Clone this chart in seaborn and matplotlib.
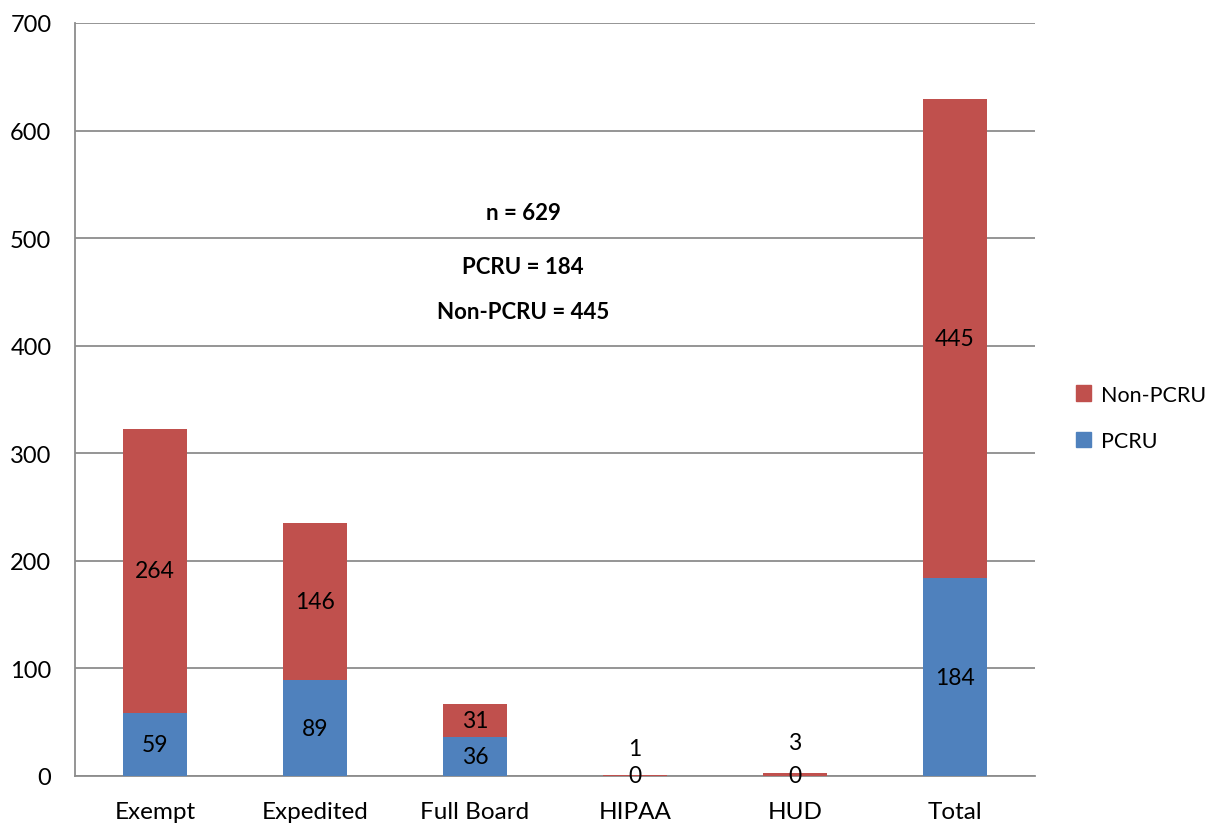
import numpy as np
import pandas as pd
import seaborn as sns
import matplotlib.pyplot as plt
from matplotlib.patches import Patch

categories = ['Exempt', 'Expedited', 'Full Board', 'HIPAA', 'HUD', 'Total']
pcru = [59, 89, 36, 0, 0, 184]
non_pcru = [264, 146, 31, 1, 3, 445]

blue = '#4F81BD'
red = '#C0504D'
grid_c = '#8C8C8C'

df = pd.DataFrame({'category': categories, 'PCRU': pcru, 'Non-PCRU': non_pcru})
df['total'] = df['PCRU'] + df['Non-PCRU']

sns.set_style('white')
plt.rcParams['font.family'] = ['Lato', 'DejaVu Sans']
plt.rcParams['text.color'] = 'black'
plt.rcParams['xtick.color'] = 'black'
plt.rcParams['ytick.color'] = 'black'

fig = plt.figure(figsize=(12.21, 8.29), dpi=100)
ax = fig.add_axes([75/1221, 52/829, 960/1221, 753/829])

sns.barplot(data=df, x='category', y='total', color=red, width=0.4, saturation=1,
            linewidth=0, ax=ax, zorder=3)
sns.barplot(data=df, x='category', y='PCRU', color=blue, width=0.4, saturation=1,
            linewidth=0, ax=ax, zorder=3)

# segment labels
for i, row in df.iterrows():
    ax.text(i, row['PCRU'] / 2, str(row['PCRU']), ha='center', va='center', fontsize=16.5, zorder=5)
    if row['Non-PCRU'] >= 10:
        ax.text(i, row['PCRU'] + row['Non-PCRU'] / 2, str(row['Non-PCRU']),
                ha='center', va='center', fontsize=16.5, zorder=5)
    else:
        ax.annotate(str(row['Non-PCRU']), (i, row['total']), xytext=(0, 17 + 5 * row['Non-PCRU'] / 3),
                    textcoords='offset points', ha='center', va='center', fontsize=16.5, zorder=5)

ax.text(2.3, 524, 'n = 629', ha='center', va='center', fontsize=16, fontweight='bold')
ax.text(2.3, 474, 'PCRU = 184', ha='center', va='center', fontsize=16, fontweight='bold')
ax.text(2.3, 432, 'Non-PCRU = 445', ha='center', va='center', fontsize=16, fontweight='bold')

ax.set_ylim(0, 700)
ax.set_xlim(-0.5, 5.5)
ax.set_yticks(np.arange(0, 701, 100))
ax.yaxis.grid(True, color=grid_c, linewidth=1.3, zorder=0)
ax.set_axisbelow(True)
ax.set_xlabel('')
ax.set_ylabel('')

for s in ['top', 'right']:
    ax.spines[s].set_visible(False)
for s in ['left', 'bottom']:
    ax.spines[s].set_color(grid_c)
    ax.spines[s].set_linewidth(1.3)

ax.tick_params(axis='y', length=7, color=grid_c, width=1.3, labelsize=17, pad=10)
ax.tick_params(axis='x', length=0, labelsize=17.5, pad=18)
# category separator ticks
ax.set_xticks(np.arange(-0.5, 6, 1), minor=True)
ax.tick_params(axis='x', which='minor', length=7, color=grid_c, width=1.3, direction='out')

handles = [Patch(color=red, label='Non-PCRU'), Patch(color=blue, label='PCRU')]
fig.legend(handles=handles, loc='center left', bbox_to_anchor=(1076/1221, 1 - 419/829),
           frameon=False, fontsize=15.5, handlelength=0.7, handleheight=0.7,
           handletextpad=0.45, labelspacing=1.25, borderpad=0, borderaxespad=0)

fig.savefig('out.png', dpi=100)
